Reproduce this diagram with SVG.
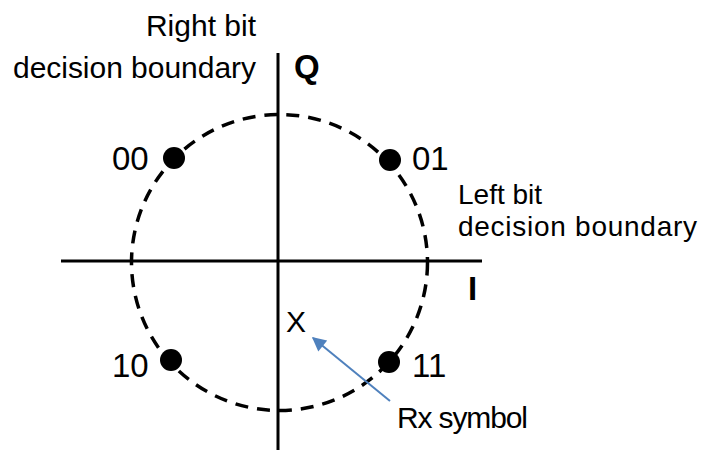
<svg xmlns="http://www.w3.org/2000/svg" width="705" height="452" viewBox="0 0 705 452">
<style>
.t{font-family:"Liberation Sans",Arial,sans-serif;font-size:30px;fill:#000}
.s{font-family:"Liberation Sans",Arial,sans-serif;font-size:28px;fill:#000}
.n{font-family:"Liberation Sans",Arial,sans-serif;font-size:33px;fill:#000}
.b{font-family:"Liberation Sans",Arial,sans-serif;font-size:33px;font-weight:bold;fill:#000}
.ax{stroke:#000;stroke-width:3;fill:none}
.dot{fill:#000}
</style>
<defs>
<marker id="ah" viewBox="0 0 10 10" refX="9" refY="5" markerWidth="8" markerHeight="7" markerUnits="strokeWidth" orient="auto">
<path d="M0,0 L10,5 L0,10 z" fill="#4F81BD"/>
</marker>
</defs>
<rect width="705" height="452" fill="#fff"/>
<g id="connectors">
<line class="ax" x1="61" y1="261" x2="482" y2="261"/>
<line class="ax" x1="278" y1="53" x2="278" y2="450"/>
<circle cx="279.5" cy="262.5" r="148" fill="none" stroke="#000" stroke-width="3.5" stroke-dasharray="13 9"/>
<line x1="390" y1="401" x2="313" y2="338" stroke="#4F81BD" stroke-width="2" marker-end="url(#ah)"/>
</g>
<g id="label-right-bit">
<text class="t" x="256" y="36" text-anchor="end">Right bit</text>
<text class="t" x="256" y="78" text-anchor="end" textLength="243">decision boundary</text>
</g>
<g id="label-Q"><text class="b" x="294" y="78">Q</text></g>
<g id="label-left-bit">
<text class="s" x="458" y="204">Left bit</text>
<text class="s" x="458" y="236" textLength="239">decision boundary</text>
</g>
<g id="label-I"><text class="b" x="468" y="300">I</text></g>
<g id="pt00"><circle class="dot" cx="174" cy="158" r="11"/><text class="n" x="112" y="170">00</text></g>
<g id="pt01"><circle class="dot" cx="390" cy="160" r="11"/><text class="n" x="412" y="170">01</text></g>
<g id="pt10"><circle class="dot" cx="171" cy="360" r="11"/><text class="n" x="112" y="377">10</text></g>
<g id="pt11"><circle class="dot" cx="389" cy="362" r="11"/><text class="n" x="412" y="377">11</text></g>
<g id="rx"><text class="t" x="286" y="332">X</text></g>
<g id="label-rx"><text class="t" x="397" y="428" textLength="131">Rx symbol</text></g>
</svg>
